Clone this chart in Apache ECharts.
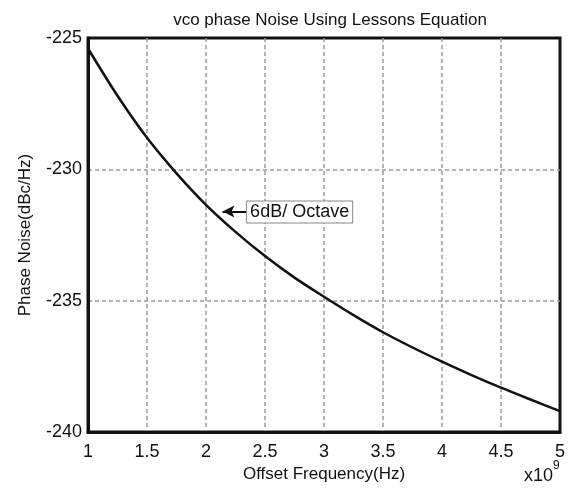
<!DOCTYPE html>
<html>
<head>
<meta charset="utf-8">
<script src="https://cdn.jsdelivr.net/npm/echarts@6/dist/echarts.min.js"></script>
<style>
  html, body { margin: 0; padding: 0; background: #fff; }
  #chart { width: 571px; height: 488px; }
</style>
</head>
<body>
<div id="chart"></div>
<script>
// offset frequency in units of 1e9 Hz
const freqs = [1, 1.25, 1.5, 1.75, 2, 2.25, 2.5, 2.75, 3, 3.25, 3.5, 3.75, 4, 4.25, 4.5, 4.75, 5];
// phase noise (dBc/Hz)
const noise = [-225.4, -227.2, -228.8, -230.15, -231.35, -232.38, -233.3, -234.12, -234.85,
  -235.55, -236.2, -236.78, -237.32, -237.83, -238.31, -238.76, -239.2];
const xTicks = [1, 1.5, 2, 2.5, 3, 3.5, 4, 4.5, 5];
const yTicks = [-240, -235, -230, -225];
const noteText = '6dB/ Octave';
const notePoint = [2.14, -231.6]; // where the arrow points

const FONT = '"Liberation Sans", Arial, sans-serif';
const chart = echarts.init(document.getElementById('chart'));

const gridLine = { show: true, showMinLine: false, showMaxLine: false,
  lineStyle: { color: '#999', width: 1.5, type: [4, 3] } };

const option = {
  animation: false,
  backgroundColor: '#fff',
  title: {
    text: 'vco phase Noise Using Lessons Equation',
    left: 325, top: 7, textAlign: 'center',
    textStyle: { fontFamily: FONT, fontSize: 17, fontWeight: 'normal', color: '#111' }
  },
  grid: {
    left: 88, right: 11, top: 38, bottom: 50,
    show: true, borderColor: '#111', borderWidth: 3
  },
  xAxis: {
    type: 'value', min: xTicks[0], max: xTicks[xTicks.length - 1], interval: 0.5,
    name: 'Offset Frequency(Hz)', nameLocation: 'middle', nameGap: 28,
    nameTextStyle: { fontFamily: FONT, fontSize: 17, color: '#111' },
    axisLine: { show: true, lineStyle: { color: '#111', width: 3 } },
    axisTick: { show: false },
    axisLabel: { fontFamily: FONT, fontSize: 18, color: '#111', margin: 11 },
    splitLine: gridLine
  },
  yAxis: {
    type: 'value', min: yTicks[0], max: yTicks[yTicks.length - 1], interval: 5,
    name: 'Phase Noise(dBc/Hz)', nameLocation: 'middle', nameGap: 54,
    nameTextStyle: { fontFamily: FONT, fontSize: 17, color: '#111' },
    axisLine: { show: true, lineStyle: { color: '#111', width: 3 } },
    axisTick: { show: false },
    axisLabel: { fontFamily: FONT, fontSize: 18, color: '#111', margin: 6 },
    splitLine: gridLine
  },
  series: [{
    type: 'line',
    data: freqs.map((f, i) => [f, noise[i]]),
    smooth: 0.3,
    showSymbol: false,
    lineStyle: { color: '#111', width: 2.5 },
    markLine: {
      silent: true,
      symbol: ['none', 'arrow'],
      symbolSize: [9, 12],
      label: { show: false },
      lineStyle: { color: '#111', width: 2, type: 'solid' },
      data: [[{ coord: [notePoint[0] + 0.2, notePoint[1]] }, { coord: notePoint }]]
    }
  }]
};
chart.setOption(option);

const p = chart.convertToPixel({ gridIndex: 0 }, [notePoint[0] + 0.2, notePoint[1]]);
chart.setOption({
  graphic: [
    {
      type: 'text', left: p[0], top: p[1] - 11,
      style: {
        text: noteText, fontFamily: FONT, fontSize: 18, fill: '#111',
        backgroundColor: '#fff', borderColor: '#888', borderWidth: 1,
        padding: [2, 3, 1, 3]
      }
    },
    {
      type: 'text', left: 524, top: 467,
      style: {
        text: 'x10', fontFamily: FONT, fontSize: 18, fill: '#111'
      }
    },
    {
      type: 'text', left: 553, top: 460,
      style: {
        text: '9', fontFamily: FONT, fontSize: 12, fill: '#111'
      }
    }
  ]
});
</script>
</body>
</html>
